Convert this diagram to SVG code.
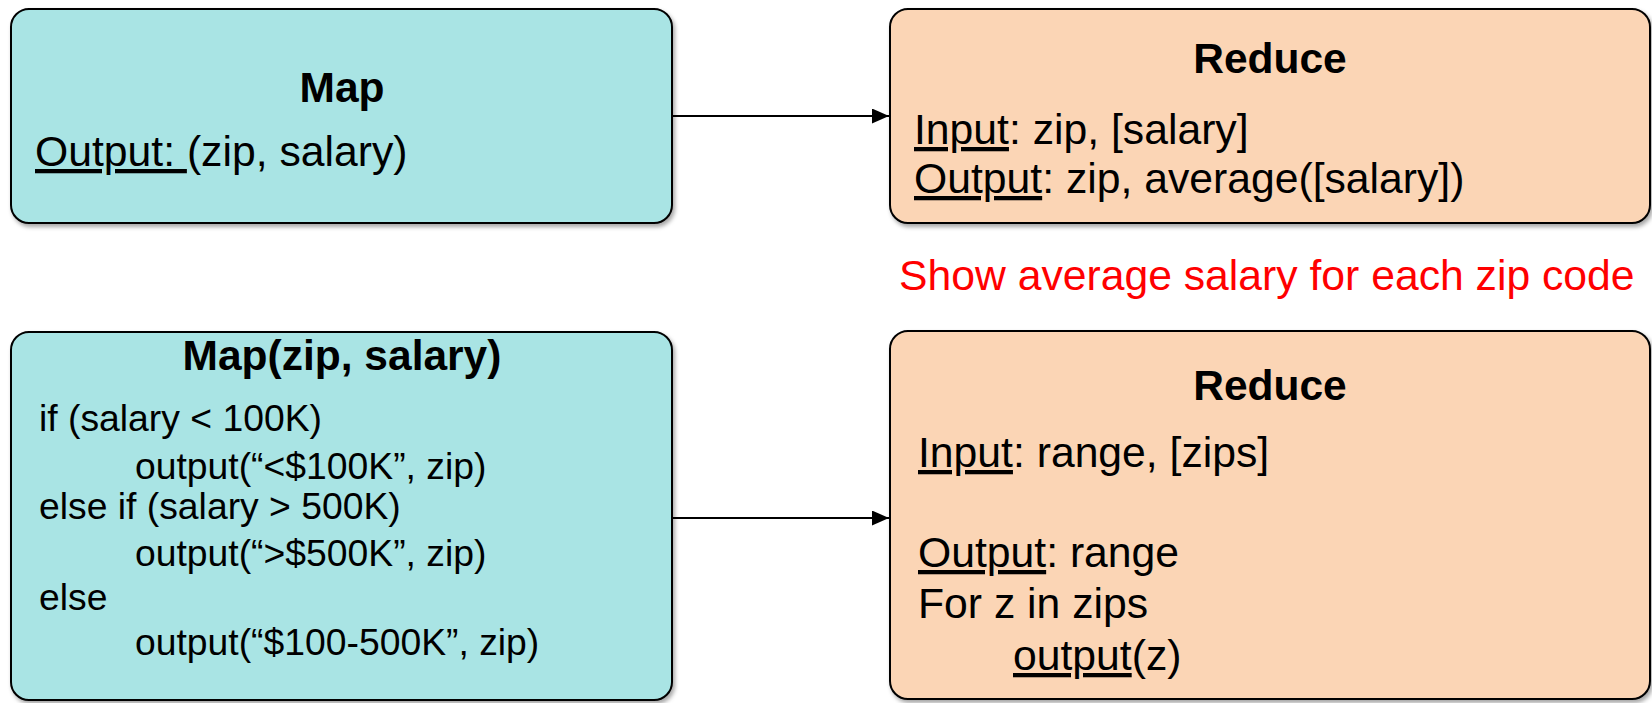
<svg xmlns="http://www.w3.org/2000/svg" width="1652" height="703" viewBox="0 0 1652 703">
<style>
.map{fill:#a9e4e4;stroke:#000;stroke-width:2;filter:url(#sh)}
.red{fill:#fbd5b5;stroke:#000;stroke-width:2;filter:url(#sh)}
text{font-family:"Liberation Sans",Arial,sans-serif;fill:#000}
.t{font-size:42.5px;font-weight:bold;text-anchor:middle}
.b{font-size:42.7px}
.s{font-size:37.3px}
.u{text-decoration:underline}
.conn{stroke:#000;stroke-width:2;fill:none;marker-end:url(#ah)}
</style>
<defs>
<filter id="sh" x="-5%" y="-5%" width="110%" height="115%">
<feDropShadow dx="2" dy="3" stdDeviation="2" flood-color="#000" flood-opacity="0.35"/>
</filter>
<marker id="ah" markerWidth="17" markerHeight="15" refX="17" refY="7.5" orient="auto" markerUnits="userSpaceOnUse">
<path d="M0,0 L17,7.5 L0,15 z" fill="#000"/>
</marker>
</defs>
<rect width="1652" height="703" fill="#fff"/>
<g id="connectors">
<line class="conn" x1="672" y1="116" x2="889" y2="116"/>
<line class="conn" x1="672" y1="518" x2="889" y2="518"/>
</g>
<g id="map1">
<rect class="map" x="11" y="9" width="661" height="214" rx="18"/>
<text class="t" x="342" y="102">Map</text>
<text class="b" x="35" y="166"><tspan class="u">Output: </tspan>(zip, salary)</text>
</g>
<g id="reduce1">
<rect class="red" x="890" y="9" width="760" height="214" rx="18"/>
<text class="t" x="1270" y="73">Reduce</text>
<text class="b" x="914" y="144"><tspan class="u">Input</tspan>: zip, [salary]</text>
<text class="b" x="914" y="193"><tspan class="u">Output</tspan>: zip, average([salary])</text>
</g>
<g id="caption">
<text class="b" x="899" y="290" style="fill:#ff0000">Show average salary for each zip code</text>
</g>
<g id="map2">
<rect class="map" x="11" y="332" width="661" height="368" rx="18"/>
<text class="t" x="342" y="370">Map(zip, salary)</text>
<text class="s" x="39" y="431">if (salary &lt; 100K)</text>
<text class="s" x="135" y="479">output(“&lt;$100K”, zip)</text>
<text class="s" x="39" y="519">else if (salary &gt; 500K)</text>
<text class="s" x="135" y="566">output(“&gt;$500K”, zip)</text>
<text class="s" x="39" y="610">else</text>
<text class="s" x="135" y="655">output(“$100-500K”, zip)</text>
</g>
<g id="reduce2">
<rect class="red" x="890" y="331" width="760" height="368" rx="18"/>
<text class="t" x="1270" y="400">Reduce</text>
<text class="b" x="918" y="467"><tspan class="u">Input</tspan>: range, [zips]</text>
<text class="b" x="918" y="567"><tspan class="u">Output</tspan>: range</text>
<text class="b" x="918" y="618">For z in zips</text>
<text class="b" x="1013" y="670"><tspan class="u">output</tspan>(z)</text>
</g>
</svg>
